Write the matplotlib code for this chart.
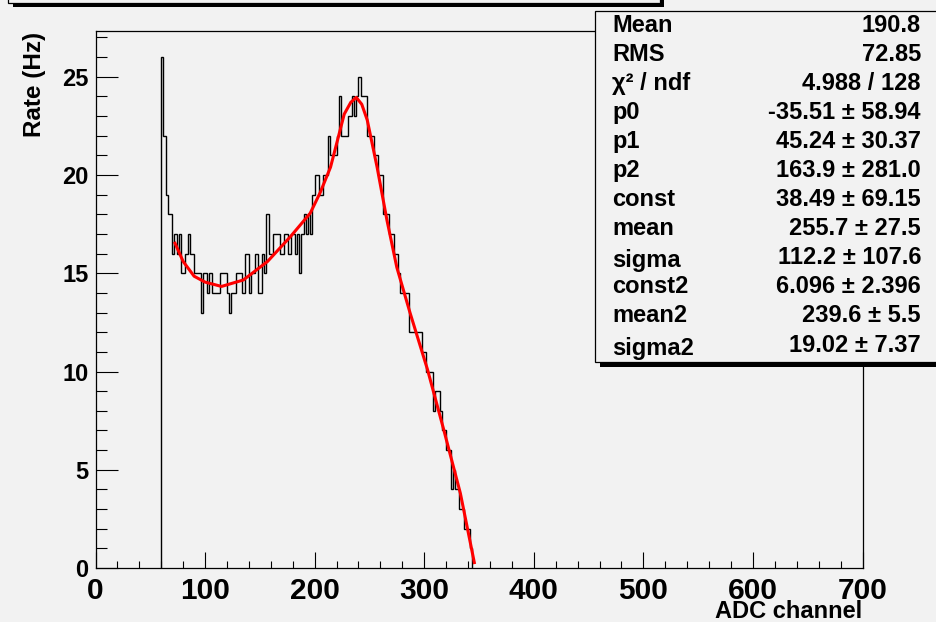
import numpy as np
import matplotlib
matplotlib.use("Agg")
import matplotlib.pyplot as plt
from matplotlib.patches import Rectangle
from matplotlib.ticker import MultipleLocator

# ---------------- data ----------------
bin_start = 60
bin_width = 2
rates = [26, 22, 19, 18, 18, 16, 17, 16, 17, 15,
         15, 16, 17, 16, 16, 15, 15, 15, 13, 15,
         15, 14, 15, 14, 14, 14, 14, 15, 15, 15,
         14, 13, 14, 14, 15, 15, 15, 14, 16, 16,
         14, 15, 15, 16, 14, 14, 16, 15, 18, 16,
         16, 17, 17, 17, 16, 16, 17, 17, 16, 17,
         17, 16, 17, 15, 17, 18, 17, 18, 17, 19,
         20, 20, 19, 19, 20, 20, 22, 21, 21, 21,
         22, 24, 22, 22, 22, 23, 23, 24, 23, 24,
         25, 24, 24, 24, 22, 22, 22, 21, 21, 20,
         20, 18, 18, 18, 17, 17, 16, 16, 15, 14,
         14, 14, 14, 12, 12, 12, 12, 12, 12, 11,
         11, 10, 10, 10, 8, 9, 9, 8, 7, 7,
         6, 6, 4, 5, 4, 4, 3, 3, 2, 2,
         2, 1]

fit_x = [72, 80, 90, 100, 115, 135, 157, 178, 196, 205, 214.5, 221, 227, 233,
         238, 243, 248, 257, 266, 275, 287, 303, 318, 333, 346]
fit_y = [16.6, 15.6, 14.85, 14.55, 14.33, 14.66, 15.6, 16.87, 18.06, 19.1, 20.4,
         21.8, 23.1, 23.7, 23.95, 23.6, 22.8, 20.4, 17.7, 15.3, 13.0, 10.1, 7.0,
         3.8, 0.2]

xticks = [0, 100, 200, 300, 400, 500, 600, 700]
yticks = [0, 5, 10, 15, 20, 25]

stat_labels = ["Mean", "RMS", "χ² / ndf", "p0", "p1", "p2", "const", "mean",
               "sigma", "const2", "mean2", "sigma2"]
stat_values = ["190.8", "72.85", "4.988 / 128", "-35.51 ± 58.94", "45.24 ± 30.37",
               "163.9 ± 281.0", "38.49 ± 69.15", "255.7 ± 27.5", "112.2 ± 107.6",
               "6.096 ± 2.396", "239.6 ± 5.5", "19.02 ± 7.37"]

# ---------------- figure ----------------
W, H = 936, 622
BG = "#f2f2f2"
plt.rcParams['font.family'] = ['Liberation Sans', 'DejaVu Sans']
fig = plt.figure(figsize=(W / 100, H / 100), dpi=100, facecolor=BG)

L, R, T, B = 95.5, 862.5, 31, 568
ax = fig.add_axes([L / W, 1 - B / H, (R - L) / W, (B - T) / H])
ax.set_facecolor(BG)

edges = bin_start + bin_width * np.arange(len(rates) + 1)
ax.stairs(rates, edges, baseline=0, color="black", lw=1.0, zorder=2)
ax.plot(fit_x, fit_y, color="#ff0000", lw=2.2, zorder=3, solid_capstyle="butt",
        solid_joinstyle="round")

ax.set_xlim(0, 700)
ax.set_ylim(0, 27.33)
ax.set_xticks(xticks)
ax.set_yticks(yticks)
ax.xaxis.set_minor_locator(MultipleLocator(20))
ax.yaxis.set_minor_locator(MultipleLocator(1))
for s in ax.spines.values():
    s.set_linewidth(0.9)
ax.tick_params(axis="x", which="major", direction="in", length=11.2, width=0.8,
               pad=6.5, labelsize=21.5, top=False)
ax.tick_params(axis="x", which="minor", direction="in", length=5.4, width=0.8, top=False)
ax.tick_params(axis="y", which="major", direction="in", length=15.8, width=0.8,
               pad=5.0, labelsize=17, right=False)
ax.tick_params(axis="y", which="minor", direction="in", length=7.9, width=0.8, right=False)
for lab in ax.get_xticklabels() + ax.get_yticklabels():
    lab.set_fontweight("bold")

def fx(x):
    return x / W

def fy(y):
    return 1 - y / H

fig.text(fx(862.5), fy(618.5), "ADC channel", ha="right", va="baseline",
         fontsize=17, fontweight="bold")
fig.text(fx(35), fy(31.5), "Rate (Hz)", ha="center", va="top", rotation=90,
         fontsize=17.5, fontweight="bold")

def rect_px(x0, y0, x1, y1, **kw):
    r = Rectangle((fx(x0), fy(y1)), fx(x1) - fx(x0), fy(y0) - fy(y1),
                  transform=fig.transFigure, **kw)
    fig.add_artist(r)
    return r

# title box (mostly outside the visible area)
rect_px(13, 3, 664, 7, facecolor="black", edgecolor="none", zorder=5)
rect_px(660, -20, 664, 7, facecolor="black", edgecolor="none", zorder=5)
rect_px(8, -40, 660, 3, facecolor=BG, edgecolor="black", lw=0.9, zorder=6)

# stats box
rect_px(600, 361.7, 960, 366.7, facecolor="black", edgecolor="none", zorder=5)
rect_px(594.5, 10.7, 960, 361.7, facecolor=BG, edgecolor="black", lw=0.9, zorder=6)

for i, (lab, val) in enumerate(zip(stat_labels, stat_values)):
    yb = 31.5 + 29.1 * i
    dy = 3 if lab.startswith("sigma") else 0
    fig.text(fx(612), fy(yb + dy), lab, ha="left", va="baseline", fontsize=17,
             fontweight="bold", zorder=7)
    fig.text(fx(921), fy(yb), val, ha="right", va="baseline", fontsize=17,
             fontweight="bold", zorder=7)

fig.savefig("out.png", dpi=100, facecolor=BG)
